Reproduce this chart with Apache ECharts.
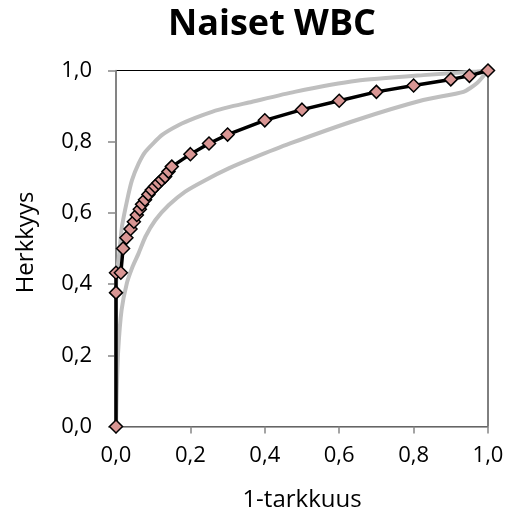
<!DOCTYPE html>
<html><head><meta charset="utf-8">
<script src="https://cdn.jsdelivr.net/npm/echarts@6/dist/echarts.min.js"></script>
<style>html,body{margin:0;padding:0;background:#fff}#c{width:510px;height:520px}</style>
</head><body><div id="c"></div>
<script>
const rocX = [0,0,0,0.013,0.019,0.028,0.039,0.048,0.056,0.064,0.07,0.078,0.087,0.096,0.105,0.114,0.123,0.132,0.141,0.15,0.2,0.25,0.3,0.4,0.5,0.6,0.7,0.8,0.9,0.95,1];
const rocY = [0,0.376,0.432,0.432,0.5,0.53,0.555,0.575,0.594,0.61,0.624,0.637,0.652,0.664,0.674,0.684,0.693,0.702,0.716,0.73,0.765,0.795,0.82,0.86,0.89,0.915,0.94,0.958,0.975,0.985,1];
const upperX = [0,0,0.002,0.007,0.016,0.03,0.043,0.061,0.079,0.124,0.169,0.213,0.258,0.303,0.357,0.48,0.647,0.826,0.97,1];
const upperY = [0,0.38,0.43,0.468,0.561,0.636,0.692,0.739,0.772,0.819,0.847,0.867,0.884,0.897,0.91,0.94,0.971,0.987,0.997,1];
const lowerX = [0,0.002,0.006,0.015,0.029,0.045,0.061,0.079,0.106,0.142,0.186,0.24,0.303,0.366,0.468,0.647,0.826,0.934,0.97,1];
const lowerY = [0,0.1,0.215,0.327,0.402,0.45,0.487,0.533,0.58,0.622,0.66,0.692,0.725,0.753,0.795,0.861,0.917,0.94,0.964,1];
const xTicks = ['0,0','0,2','0,4','0,6','0,8','1,0'];

const zip = (a,b) => a.map((v,i)=>[v,b[i]]);
const fmt = v => v.toFixed(1).replace('.', ',');
const font = 'Open Sans';
const chart = echarts.init(document.getElementById('c'));
chart.setOption({
  animation:false,
  backgroundColor:'#fff',
  title:{text:'Naiset WBC', top:2, left:267, textAlign:'center',
    textStyle:{fontFamily:font, fontWeight:'bold', fontSize:36, color:'#000'}},
  grid:{left:116, top:70.5, width:372, height:356, show:true, borderColor:'#000', borderWidth:1, backgroundColor:'transparent'},
  xAxis:{type:'value', min:0, max:1, interval:0.2,
    name:'1-tarkkuus', nameLocation:'middle', nameGap:62,
    nameTextStyle:{fontFamily:font, fontSize:24, color:'#000'},
    axisLine:{show:true, onZero:false, lineStyle:{color:'#868686', width:1.5}},
    axisTick:{show:true, inside:false, length:7, lineStyle:{color:'#868686', width:1.5}},
    axisLabel:{fontFamily:font, fontSize:22, color:'#000', margin:18, formatter:v=>fmt(v)},
    splitLine:{show:false}},
  yAxis:{type:'value', min:0, max:1, interval:0.2,
    name:'Herkkyys', nameLocation:'middle', nameGap:78, nameRotate:90,
    nameTextStyle:{fontFamily:font, fontSize:24, color:'#000', padding:[0,0,0,12]},
    axisLine:{show:true, onZero:false, lineStyle:{color:'#868686', width:1.5}},
    axisTick:{show:true, inside:false, length:8, lineStyle:{color:'#868686', width:1.5}},
    axisLabel:{fontFamily:font, fontSize:22, color:'#000', margin:24, formatter:v=>fmt(v)},
    splitLine:{show:false}},
  series:[
    {type:'line', data:zip(rocX,rocY), symbol:'diamond', symbolSize:13,
      lineStyle:{color:'#000', width:3.5}, itemStyle:{color:'#d99694', borderColor:'#000', borderWidth:1.5}, z:3},
    {type:'line', data:zip(upperX,upperY), symbol:'none', smooth:0.2,
      lineStyle:{color:'#bfbfbf', width:4}, z:2},
    {type:'line', data:zip(lowerX,lowerY), symbol:'none', smooth:0.2,
      lineStyle:{color:'#bfbfbf', width:4}, z:2}
  ]
});
</script></body></html>
